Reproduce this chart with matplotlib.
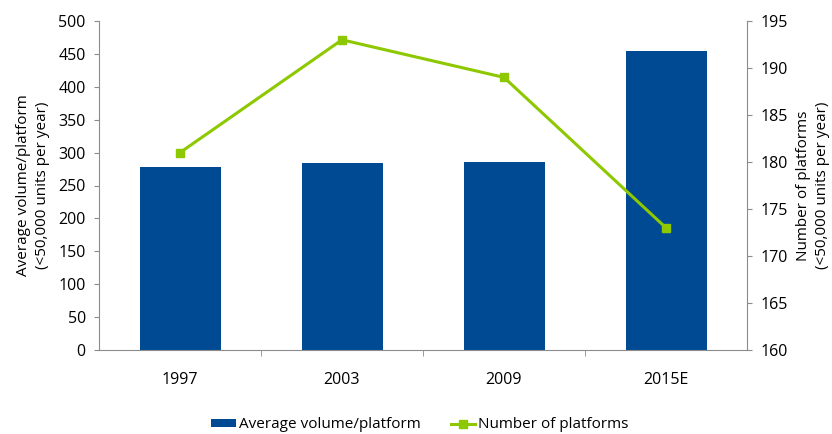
import matplotlib
matplotlib.use("Agg")
import matplotlib.pyplot as plt
import numpy as np

categories = ["1997", "2003", "2009", "2015E"]
avg_volume = [278, 284, 286, 454]
num_platforms = [181, 193, 189, 173]

BLUE = "#004A93"
GREEN = "#8DC800"
GREY = "#8C8C8C"

plt.rcParams['font.family'] = ['Open Sans', 'DejaVu Sans']
plt.rcParams['font.size'] = 11

FS = 11.5
LFS = 11
fig = plt.figure(figsize=(8.32, 4.34), dpi=100)
ax = fig.add_axes([99/832, 1-350/434, (747-99)/832, (350-21)/434])
x = np.arange(len(categories))
ax.bar(x, avg_volume, width=0.5, color=BLUE, label="Average volume/platform", zorder=2)
ax.set_xlim(-0.5, len(categories)-0.5)
ax.set_ylim(0, 500)
ax.set_yticks(np.arange(0, 501, 50))
ax.set_xticks(x)
ax.set_xticklabels(categories)
ax.set_xticks(np.arange(0.5, len(categories)-0.5, 1), minor=True)
ax.tick_params(axis='x', which='major', length=0, pad=16, labelsize=FS)
ax.tick_params(axis='x', which='minor', length=4, color=GREY, direction='out')
ax.tick_params(axis='y', length=3.5, color=GREY, labelsize=FS, pad=6)
for s in ['top', 'right']:
    ax.spines[s].set_visible(False)
for s in ['left', 'bottom']:
    ax.spines[s].set_color(GREY)
ax.set_ylabel("Average volume/platform\n(<50,000 units per year)", fontsize=LFS, labelpad=6, linespacing=1.35)

ax2 = ax.twinx()
ax2.plot(x, num_platforms, color=GREEN, lw=2.2, marker='s', ms=5.5, label="Number of platforms", zorder=3)
ax2.set_ylim(160, 195)
ax2.set_yticks(np.arange(160, 196, 5))
ax2.tick_params(axis='y', length=3.5, color=GREY, labelsize=FS, pad=6)
for s in ['top', 'left', 'bottom']:
    ax2.spines[s].set_visible(False)
ax2.spines['right'].set_color(GREY)
ax2.set_ylabel("Number of platforms\n(<50,000 units per year)", fontsize=LFS, labelpad=6, linespacing=1.35)

h1, l1 = ax.get_legend_handles_labels()
h2, l2 = ax2.get_legend_handles_labels()
fig.legend(h1 + h2, l1 + l2, loc='center', bbox_to_anchor=(420/832, 1-425/434),
           ncol=2, frameon=False, fontsize=11, handlelength=1.6, handletextpad=0.2,
           columnspacing=2.0, handleheight=0.5, borderpad=0)

fig.savefig("out.png", dpi=100)
